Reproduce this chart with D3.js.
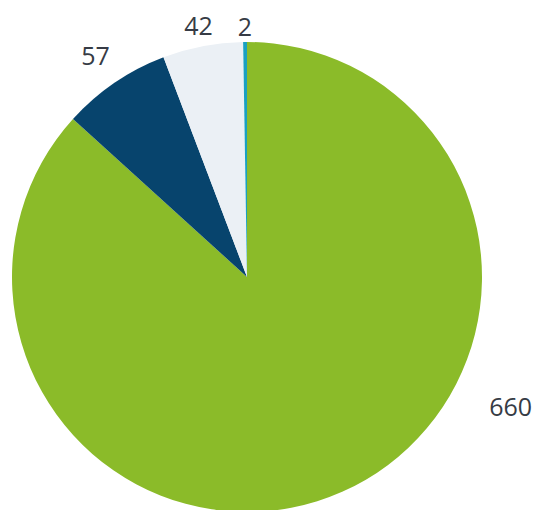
<!DOCTYPE html>
<html>
<head>
<meta charset="utf-8">
<script src="https://cdn.jsdelivr.net/npm/d3@7"></script>
<style>
  body { margin: 0; background: #fff; }
  svg { display: block; }
</style>
</head>
<body>
<script>
// Pie chart, four slices, clockwise from 12 o'clock
const w = 537;
const h = 510;

const labels = ["660", "57", "42", "2"];
const values = [660, 57, 42, 2];
const colors = ["#8bbb29", "#07446d", "#ebf0f5", "#1aa0c1"];

const cx = 247;
const cy = 277;
const radius = 235;
const labelGap = 6;
const labelSpread = 2.5; // labels sit further out at the sides
const labelMaxY = 406; // keep labels inside the visible area

const svg = d3.select("body").append("svg")
  .attr("width", w)
  .attr("height", h);

const pie = d3.pie().sort(null).value(d => d);
const arcs = pie(values);

const arc = d3.arc().innerRadius(0).outerRadius(radius);

const g = svg.append("g").attr("transform", "translate(" + cx + "," + cy + ")");

g.selectAll("path")
  .data(arcs)
  .enter()
  .append("path")
  .attr("d", arc)
  .attr("fill", (d, i) => colors[i]);

// labels: outside the slice, pushed out by the text box size
const txt = g.selectAll("text.lbl")
  .data(arcs)
  .enter()
  .append("text")
  .attr("class", "lbl")
  .style("font-family", "'Open Sans', sans-serif")
  .style("font-size", "25px")
  .style("fill", "#363b45")
  .attr("text-anchor", "middle")
  .attr("dominant-baseline", "central")
  .text((d, i) => labels[i]);

txt.each(function(d) {
  const bb = this.getBBox();
  const hw = bb.width / 2, hh = 9.5;
  let a = (d.startAngle + d.endAngle) / 2;
  const place = ang => {
    const sx = Math.sin(ang), sy = -Math.cos(ang);
    const r = radius + labelGap + labelSpread * hw * Math.abs(sx) + hh * Math.abs(sy);
    return [r * sx, r * sy];
  };
  let p = place(a);
  // slide toward the slice start if the label falls off the bottom
  while (p[1] + cy > labelMaxY && a > d.startAngle) {
    a -= 0.005;
    p = place(a);
  }
  d3.select(this).attr("x", p[0]).attr("y", p[1]);
});
</script>
</body>
</html>
